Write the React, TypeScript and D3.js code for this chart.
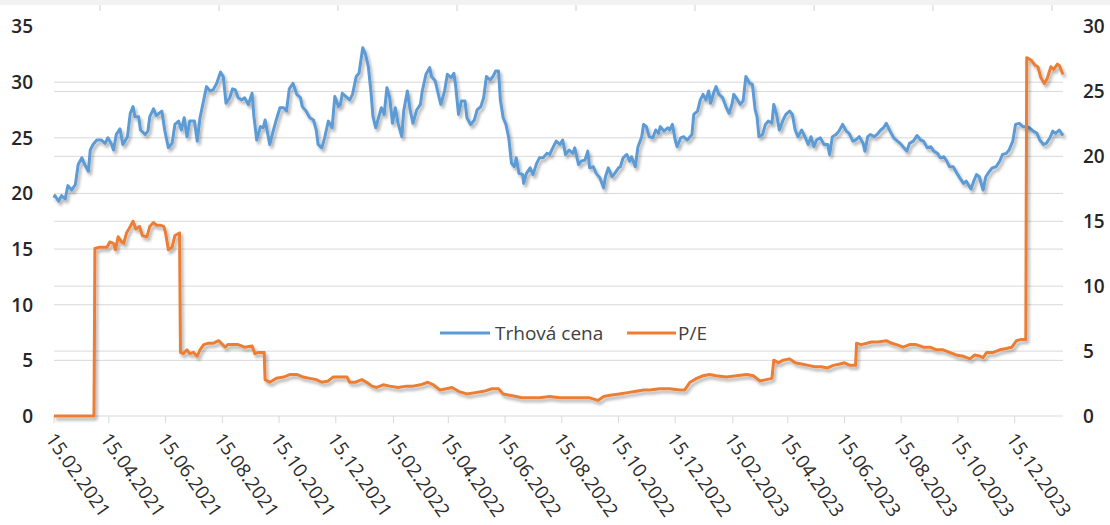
// Trhová cena vs. P/E - dual axis line chart (Excel look)

import React from 'react';
import * as d3 from 'd3';

// x-axis labels, every two months
const dateTicks = [
  '15.02.2021', '15.04.2021', '15.06.2021', '15.08.2021', '15.10.2021', '15.12.2021',
  '15.02.2022', '15.04.2022', '15.06.2022', '15.08.2022', '15.10.2022', '15.12.2022',
  '15.02.2023', '15.04.2023', '15.06.2023', '15.08.2023', '15.10.2023', '15.12.2023',
];

// left axis (market price) and right axis (P/E)
const leftTicks = [0, 5, 10, 15, 20, 25, 30, 35];
const rightTicks = [0, 5, 10, 15, 20, 25, 30];

const seriesNames = ['Trhová cena', 'P/E'];
const seriesColors = ['#5B9BD5', '#ED7D31'];

// market price
const marketPrice: [string, number][] = [
  ['2021-02-15', 19.6], ['2021-02-16', 19.8], ['2021-02-20', 19.3], ['2021-02-23', 19.8], ['2021-02-27', 19.5],
  ['2021-03-02', 20.7], ['2021-03-06', 20.3], ['2021-03-10', 20.8], ['2021-03-13', 22.6], ['2021-03-17', 23.2],
  ['2021-03-20', 22.6], ['2021-03-24', 22.0], ['2021-03-26', 23.9], ['2021-03-29', 24.4], ['2021-04-02', 24.8],
  ['2021-04-07', 24.8], ['2021-04-11', 24.5], ['2021-04-14', 25.0], ['2021-04-18', 24.4], ['2021-04-20', 23.9],
  ['2021-04-23', 25.3], ['2021-04-27', 25.8], ['2021-04-30', 24.4], ['2021-05-05', 25.1], ['2021-05-08', 27.2],
  ['2021-05-11', 27.8], ['2021-05-13', 26.9], ['2021-05-17', 26.9], ['2021-05-19', 25.7], ['2021-05-24', 25.3],
  ['2021-05-27', 25.6], ['2021-05-29', 26.9], ['2021-06-02', 27.6], ['2021-06-05', 27.0], ['2021-06-11', 27.4],
  ['2021-06-14', 25.7], ['2021-06-18', 24.1], ['2021-06-22', 24.5], ['2021-06-25', 26.2], ['2021-06-29', 26.5],
  ['2021-07-02', 25.7], ['2021-07-05', 26.8], ['2021-07-08', 25.1], ['2021-07-11', 26.5], ['2021-07-16', 26.5],
  ['2021-07-19', 24.7], ['2021-07-22', 26.8], ['2021-07-26', 28.4], ['2021-07-29', 29.6], ['2021-08-02', 29.2],
  ['2021-08-05', 29.3], ['2021-08-09', 29.9], ['2021-08-13', 30.9], ['2021-08-16', 30.5], ['2021-08-19', 28.1],
  ['2021-08-23', 28.6], ['2021-08-26', 29.4], ['2021-08-29', 29.3], ['2021-09-01', 28.6], ['2021-09-05', 28.4],
  ['2021-09-08', 28.6], ['2021-09-12', 28.0], ['2021-09-16', 29.0], ['2021-09-18', 26.9], ['2021-09-21', 24.8],
  ['2021-09-25', 26.0], ['2021-09-28', 25.9], ['2021-09-30', 26.6], ['2021-10-05', 24.4], ['2021-10-09', 25.7],
  ['2021-10-12', 26.6], ['2021-10-16', 27.7], ['2021-10-20', 27.7], ['2021-10-23', 27.4], ['2021-10-26', 29.4],
  ['2021-10-30', 29.9], ['2021-11-03', 28.9], ['2021-11-07', 28.6], ['2021-11-09', 27.8], ['2021-11-13', 27.4],
  ['2021-11-17', 26.8], ['2021-11-21', 26.6], ['2021-11-24', 25.7], ['2021-11-26', 24.4], ['2021-11-30', 24.1],
  ['2021-12-03', 25.0], ['2021-12-07', 26.5], ['2021-12-11', 25.9], ['2021-12-14', 28.7], ['2021-12-18', 27.8],
  ['2021-12-20', 28.0], ['2021-12-22', 29.0], ['2021-12-26', 28.7], ['2021-12-30', 28.4], ['2022-01-02', 28.9],
  ['2022-01-06', 30.5], ['2022-01-09', 30.8], ['2022-01-13', 33.1], ['2022-01-16', 32.5], ['2022-01-19', 31.4],
  ['2022-01-22', 29.0], ['2022-01-24', 26.9], ['2022-01-27', 25.9], ['2022-01-30', 26.8], ['2022-02-02', 27.7],
  ['2022-02-05', 27.1], ['2022-02-08', 29.5], ['2022-02-11', 28.6], ['2022-02-14', 26.3], ['2022-02-17', 27.7],
  ['2022-02-20', 26.3], ['2022-02-24', 25.1], ['2022-02-26', 27.4], ['2022-03-02', 29.2], ['2022-03-05', 27.5],
  ['2022-03-08', 26.3], ['2022-03-12', 27.5], ['2022-03-16', 28.0], ['2022-03-18', 29.2], ['2022-03-22', 30.7],
  ['2022-03-26', 31.3], ['2022-03-28', 30.5], ['2022-04-01', 30.1], ['2022-04-04', 29.0], ['2022-04-07', 28.0],
  ['2022-04-11', 29.2], ['2022-04-14', 30.7], ['2022-04-18', 30.4], ['2022-04-21', 30.8], ['2022-04-23', 29.6],
  ['2022-04-26', 27.1], ['2022-04-29', 28.3], ['2022-05-03', 28.3], ['2022-05-05', 26.8], ['2022-05-09', 26.2],
  ['2022-05-13', 26.6], ['2022-05-16', 27.5], ['2022-05-20', 27.8], ['2022-05-23', 28.6], ['2022-05-26', 30.5],
  ['2022-05-30', 30.2], ['2022-06-02', 30.5], ['2022-06-05', 31.0], ['2022-06-08', 31.0], ['2022-06-10', 28.4],
  ['2022-06-13', 26.8], ['2022-06-16', 26.2], ['2022-06-19', 25.0], ['2022-06-22', 22.7], ['2022-06-25', 22.4],
  ['2022-06-27', 23.2], ['2022-06-30', 21.8], ['2022-07-04', 21.7], ['2022-07-05', 20.9], ['2022-07-08', 21.8],
  ['2022-07-12', 22.3], ['2022-07-15', 21.7], ['2022-07-19', 22.7], ['2022-07-22', 23.2], ['2022-07-26', 23.2],
  ['2022-07-30', 23.6], ['2022-08-02', 23.5], ['2022-08-06', 24.2], ['2022-08-09', 24.7], ['2022-08-13', 24.4],
  ['2022-08-16', 24.8], ['2022-08-19', 23.5], ['2022-08-23', 23.9], ['2022-08-27', 23.6], ['2022-08-29', 24.1],
  ['2022-09-02', 22.6], ['2022-09-05', 22.9], ['2022-09-09', 23.0], ['2022-09-12', 23.8], ['2022-09-14', 22.3],
  ['2022-09-18', 22.4], ['2022-09-21', 21.8], ['2022-09-25', 21.4], ['2022-09-29', 20.5], ['2022-10-01', 21.5],
  ['2022-10-04', 22.3], ['2022-10-08', 21.5], ['2022-10-11', 21.8], ['2022-10-15', 22.3], ['2022-10-17', 22.4],
  ['2022-10-20', 23.2], ['2022-10-24', 23.5], ['2022-10-27', 22.9], ['2022-10-29', 23.3], ['2022-11-02', 22.4],
  ['2022-11-05', 24.2], ['2022-11-09', 25.1], ['2022-11-11', 26.2], ['2022-11-14', 26.0], ['2022-11-17', 25.1],
  ['2022-11-21', 25.0], ['2022-11-24', 25.7], ['2022-11-27', 25.4], ['2022-11-29', 26.0], ['2022-12-03', 25.6],
  ['2022-12-07', 25.9], ['2022-12-09', 25.7], ['2022-12-12', 26.2], ['2022-12-15', 24.8], ['2022-12-17', 24.2],
  ['2022-12-21', 25.0], ['2022-12-24', 25.1], ['2022-12-28', 24.8], ['2023-01-02', 25.3], ['2023-01-04', 27.1],
  ['2023-01-08', 27.4], ['2023-01-11', 28.4], ['2023-01-14', 28.9], ['2023-01-17', 28.4], ['2023-01-20', 29.2],
  ['2023-01-22', 28.1], ['2023-01-26', 29.2], ['2023-01-28', 29.6], ['2023-01-31', 28.9], ['2023-02-04', 28.6],
  ['2023-02-08', 27.7], ['2023-02-11', 27.2], ['2023-02-14', 28.0], ['2023-02-16', 28.9], ['2023-02-20', 28.4],
  ['2023-02-23', 28.0], ['2023-02-26', 28.3], ['2023-03-01', 30.5], ['2023-03-05', 29.9], ['2023-03-08', 29.8],
  ['2023-03-11', 27.5], ['2023-03-13', 26.9], ['2023-03-15', 25.1], ['2023-03-19', 25.3], ['2023-03-22', 26.2],
  ['2023-03-25', 26.5], ['2023-03-29', 26.3], ['2023-03-31', 28.0], ['2023-04-03', 27.1], ['2023-04-06', 25.7],
  ['2023-04-10', 26.6], ['2023-04-13', 27.1], ['2023-04-17', 27.4], ['2023-04-20', 27.1], ['2023-04-23', 25.7],
  ['2023-04-26', 25.1], ['2023-04-30', 25.7], ['2023-05-04', 25.0], ['2023-05-07', 24.4], ['2023-05-10', 25.1],
  ['2023-05-13', 24.2], ['2023-05-16', 24.8], ['2023-05-20', 25.0], ['2023-05-24', 24.4], ['2023-05-28', 24.4],
  ['2023-05-30', 23.5], ['2023-06-02', 25.1], ['2023-06-06', 25.3], ['2023-06-09', 25.6], ['2023-06-13', 26.2],
  ['2023-06-17', 25.6], ['2023-06-20', 25.4], ['2023-06-24', 24.7], ['2023-06-27', 24.8], ['2023-07-01', 25.1],
  ['2023-07-05', 24.5], ['2023-07-07', 23.8], ['2023-07-10', 25.1], ['2023-07-13', 25.3], ['2023-07-17', 25.1],
  ['2023-07-20', 25.3], ['2023-07-24', 25.7], ['2023-07-27', 25.9], ['2023-07-30', 26.3], ['2023-08-03', 25.6],
  ['2023-08-07', 25.0], ['2023-08-11', 24.7], ['2023-08-14', 24.5], ['2023-08-17', 24.2], ['2023-08-21', 23.8],
  ['2023-08-24', 24.5], ['2023-08-28', 24.7], ['2023-09-01', 25.2], ['2023-09-05', 24.8], ['2023-09-08', 24.7],
  ['2023-09-12', 24.1], ['2023-09-16', 24.2], ['2023-09-19', 23.8], ['2023-09-23', 23.6], ['2023-09-26', 23.2],
  ['2023-09-30', 23.3], ['2023-10-03', 22.9], ['2023-10-06', 22.4], ['2023-10-10', 22.4], ['2023-10-14', 21.8],
  ['2023-10-17', 21.4], ['2023-10-21', 20.9], ['2023-10-24', 21.1], ['2023-10-29', 20.4], ['2023-11-01', 21.1],
  ['2023-11-04', 21.7], ['2023-11-07', 21.5], ['2023-11-11', 20.3], ['2023-11-14', 21.5], ['2023-11-18', 22.0],
  ['2023-11-21', 22.3], ['2023-11-25', 22.4], ['2023-11-29', 22.9], ['2023-12-02', 23.5], ['2023-12-06', 23.6],
  ['2023-12-09', 23.9], ['2023-12-13', 24.7], ['2023-12-16', 26.2], ['2023-12-20', 26.3], ['2023-12-24', 26.0],
  ['2023-12-28', 26.0], ['2023-12-31', 25.9], ['2024-01-04', 25.6], ['2024-01-08', 25.4], ['2024-01-11', 24.8],
  ['2024-01-15', 24.4], ['2024-01-18', 24.5], ['2024-01-22', 25.0], ['2024-01-25', 25.6], ['2024-01-28', 25.4],
  ['2024-02-01', 25.7], ['2024-02-05', 25.2],
];

// P/E ratio (right axis)
const peRatio: [string, number][] = [
  ['2021-02-15', 0], ['2021-03-30', 0], ['2021-03-31', 12.9], ['2021-04-05', 13.0], ['2021-04-13', 13.0],
  ['2021-04-16', 13.4], ['2021-04-20', 13.3], ['2021-04-22', 12.8], ['2021-04-25', 13.8], ['2021-04-29', 13.4],
  ['2021-05-01', 13.3], ['2021-05-04', 14.1], ['2021-05-08', 14.6], ['2021-05-11', 15.0], ['2021-05-14', 14.4],
  ['2021-05-18', 14.6], ['2021-05-21', 13.9], ['2021-05-26', 13.8], ['2021-05-29', 14.6], ['2021-06-02', 14.9],
  ['2021-06-05', 14.7], ['2021-06-09', 14.7], ['2021-06-13', 14.6], ['2021-06-15', 14.1], ['2021-06-18', 12.8],
  ['2021-06-22', 13.0], ['2021-06-25', 13.9], ['2021-06-30', 14.1], ['2021-07-01', 4.9], ['2021-07-04', 4.8],
  ['2021-07-08', 5.1], ['2021-07-11', 4.8], ['2021-07-15', 4.9], ['2021-07-19', 4.6], ['2021-07-22', 5.1],
  ['2021-07-26', 5.5], ['2021-07-31', 5.6], ['2021-08-05', 5.6], ['2021-08-11', 5.8], ['2021-08-14', 5.6],
  ['2021-08-18', 5.3], ['2021-08-21', 5.5], ['2021-08-27', 5.5], ['2021-09-01', 5.5], ['2021-09-08', 5.3],
  ['2021-09-16', 5.4], ['2021-09-19', 4.8], ['2021-09-23', 4.9], ['2021-09-29', 4.9], ['2021-09-30', 2.8],
  ['2021-10-05', 2.6], ['2021-10-12', 2.9], ['2021-10-20', 3.0], ['2021-10-27', 3.2], ['2021-11-03', 3.2],
  ['2021-11-10', 3.0], ['2021-11-17', 2.9], ['2021-11-24', 2.8], ['2021-11-30', 2.6], ['2021-12-07', 2.7],
  ['2021-12-12', 3.0], ['2021-12-20', 3.0], ['2021-12-27', 3.0], ['2021-12-30', 2.6], ['2022-01-05', 2.6],
  ['2022-01-12', 2.8], ['2022-01-17', 2.6], ['2022-01-23', 2.3], ['2022-01-28', 2.2], ['2022-02-04', 2.4],
  ['2022-02-11', 2.3], ['2022-02-20', 2.2], ['2022-03-01', 2.3], ['2022-03-08', 2.3], ['2022-03-16', 2.4],
  ['2022-03-24', 2.6], ['2022-03-30', 2.4], ['2022-04-06', 2.0], ['2022-04-13', 2.1], ['2022-04-19', 2.2],
  ['2022-04-26', 1.9], ['2022-05-05', 1.7], ['2022-05-14', 1.8], ['2022-05-23', 1.9], ['2022-06-01', 2.1],
  ['2022-06-08', 2.1], ['2022-06-13', 1.7], ['2022-06-20', 1.6], ['2022-06-27', 1.5], ['2022-07-03', 1.4],
  ['2022-07-12', 1.4], ['2022-07-22', 1.4], ['2022-08-02', 1.5], ['2022-08-13', 1.4], ['2022-08-24', 1.4],
  ['2022-09-03', 1.4], ['2022-09-14', 1.4], ['2022-09-23', 1.2], ['2022-09-29', 1.5], ['2022-10-06', 1.6],
  ['2022-10-16', 1.7], ['2022-10-25', 1.8], ['2022-11-03', 1.9], ['2022-11-11', 2.0], ['2022-11-18', 2.0],
  ['2022-11-28', 2.1], ['2022-12-09', 2.1], ['2022-12-20', 2.0], ['2022-12-25', 2.0], ['2022-12-31', 2.6],
  ['2023-01-07', 2.9], ['2023-01-14', 3.1], ['2023-01-21', 3.2], ['2023-01-28', 3.1], ['2023-02-08', 3.0],
  ['2023-02-19', 3.1], ['2023-03-02', 3.2], ['2023-03-09', 3.1], ['2023-03-16', 2.7], ['2023-03-23', 2.8],
  ['2023-03-29', 2.9], ['2023-03-31', 4.3], ['2023-04-05', 4.1], ['2023-04-10', 4.3], ['2023-04-17', 4.4],
  ['2023-04-23', 4.1], ['2023-04-30', 4.0], ['2023-05-07', 3.9], ['2023-05-14', 3.8], ['2023-05-21', 3.8],
  ['2023-05-28', 3.7], ['2023-06-03', 3.9], ['2023-06-10', 4.0], ['2023-06-15', 4.1], ['2023-06-21', 3.9],
  ['2023-06-27', 3.9], ['2023-06-28', 5.6], ['2023-07-03', 5.5], ['2023-07-09', 5.6], ['2023-07-14', 5.7],
  ['2023-07-21', 5.7], ['2023-07-30', 5.8], ['2023-08-05', 5.6], ['2023-08-10', 5.5], ['2023-08-17', 5.3],
  ['2023-08-24', 5.5], ['2023-08-31', 5.5], ['2023-09-08', 5.3], ['2023-09-15', 5.3], ['2023-09-22', 5.1],
  ['2023-09-29', 5.1], ['2023-10-06', 4.9], ['2023-10-13', 4.7], ['2023-10-21', 4.6], ['2023-10-28', 4.4],
  ['2023-11-02', 4.7], ['2023-11-08', 4.6], ['2023-11-11', 4.5], ['2023-11-15', 4.9], ['2023-11-22', 4.9],
  ['2023-11-29', 5.1], ['2023-12-06', 5.2], ['2023-12-12', 5.3], ['2023-12-17', 5.8], ['2023-12-22', 5.9],
  ['2023-12-27', 5.9], ['2023-12-28', 27.6], ['2024-01-02', 27.4], ['2024-01-06', 27.0], ['2024-01-09', 26.9],
  ['2024-01-12', 26.1], ['2024-01-16', 25.6], ['2024-01-19', 26.0], ['2024-01-23', 26.9], ['2024-01-26', 26.7],
  ['2024-01-30', 27.1], ['2024-02-01', 27.0], ['2024-02-05', 26.3],
];

const width = 1110, height = 525;
// plot area in pixels
const margin = { left: 54, right: 1063, top: 26.5, bottom: 416 };
const font = '"Open Sans", "Noto Sans", sans-serif';

const parseIso = d3.timeParse('%Y-%m-%d');
const parseTick = d3.timeParse('%d.%m.%Y');

const App = () => {
  // time scale across the whole period
  const xScale = d3.scaleTime()
    .domain([parseIso('2021-02-15') as Date, parseIso('2024-02-05') as Date])
    .range([margin.left, margin.right]);

  // left axis for price, right axis for P/E, both end at the same top
  const yLeft = d3.scaleLinear().domain([0, 35]).range([margin.bottom, margin.top]);
  const yRight = d3.scaleLinear().domain([0, 30]).range([margin.bottom, margin.top]);

  const priceLine = d3.line<[string, number]>()
    .x(d => xScale(parseIso(d[0]) as Date))
    .y(d => yLeft(d[1]));
  const peLine = d3.line<[string, number]>()
    .x(d => xScale(parseIso(d[0]) as Date))
    .y(d => yRight(d[1]));

  // gridlines for both axes, none at the very top
  const gridLeft = leftTicks.filter(v => v > 0 && v < 35);
  const gridRight = rightTicks.filter(v => v > 0 && v < 30);

  return (
    <svg width={width} height={height} style={{ position: 'fixed', left: 0, top: 0, background: '#fff' }}>
      <defs>
        <filter id="lineShadow" x="-5%" y="-10%" width="115%" height="130%">
          <feDropShadow dx="2" dy="3" stdDeviation="1.6" floodColor="#000" floodOpacity="0.3" />
        </filter>
      </defs>

      {/* cut-off strip of the chart above */}
      <rect x={0} y={0} width={width} height={5} fill="#f2f2f2" />
      {d3.range(9).map(i => (
        <line key={`cut-${i}`} x1={100 + i * 119} x2={100 + i * 119} y1={5} y2={11} stroke="#d0d0d0" strokeWidth={1} />
      ))}

      {/* horizontal gridlines */}
      {gridLeft.map(v => (
        <line key={`gl-${v}`} x1={margin.left} x2={margin.right} y1={yLeft(v)} y2={yLeft(v)} stroke="#d9d9d9" strokeWidth={1} />
      ))}
      {gridRight.map(v => (
        <line key={`gr-${v}`} x1={margin.left} x2={margin.right} y1={yRight(v)} y2={yRight(v)} stroke="#d9d9d9" strokeWidth={1} />
      ))}

      {/* x axis line and ticks */}
      <line x1={margin.left} x2={margin.right} y1={margin.bottom} y2={margin.bottom} stroke="#d9d9d9" strokeWidth={1} />
      {dateTicks.map(t => {
        const x = xScale(parseTick(t) as Date);
        return <line key={`t-${t}`} x1={x} x2={x} y1={margin.bottom} y2={margin.bottom + 7} stroke="#d9d9d9" strokeWidth={1} />;
      })}

      {/* rotated date labels */}
      {dateTicks.map(t => {
        const x = xScale(parseTick(t) as Date);
        return (
          <text key={`l-${t}`} transform={`translate(${x - 9}, ${margin.bottom + 23}) rotate(55)`}
            fontFamily={font} fontSize={19} fill="#2b2b2b">{t}</text>
        );
      })}

      {/* left and right value labels */}
      {leftTicks.map(v => (
        <text key={`yl-${v}`} x={33} y={yLeft(v)} dy="0.36em" textAnchor="end"
          fontFamily={font} fontSize={19} fontWeight={600} fill="#262626">{v}</text>
      ))}
      {rightTicks.map(v => (
        <text key={`yr-${v}`} x={1083} y={yRight(v)} dy="0.36em" textAnchor="start"
          fontFamily={font} fontSize={19} fontWeight={600} fill="#262626">{v}</text>
      ))}

      {/* series */}
      <path d={priceLine(marketPrice) ?? ''} fill="none" stroke={seriesColors[0]} strokeWidth={3}
        strokeLinejoin="round" filter="url(#lineShadow)" />
      <path d={peLine(peRatio) ?? ''} fill="none" stroke={seriesColors[1]} strokeWidth={3}
        strokeLinejoin="round" filter="url(#lineShadow)" />

      {/* legend */}
      <g fontFamily={font} fontSize={19} fill="#404040">
        <line x1={440} x2={490} y1={333} y2={333} stroke={seriesColors[0]} strokeWidth={3} />
        <text x={495} y={333} dy="0.36em">{seriesNames[0]}</text>
        <line x1={627} x2={676} y1={333} y2={333} stroke={seriesColors[1]} strokeWidth={3} />
        <text x={678} y={333} dy="0.36em">{seriesNames[1]}</text>
      </g>
    </svg>
  );
};

export default App;
